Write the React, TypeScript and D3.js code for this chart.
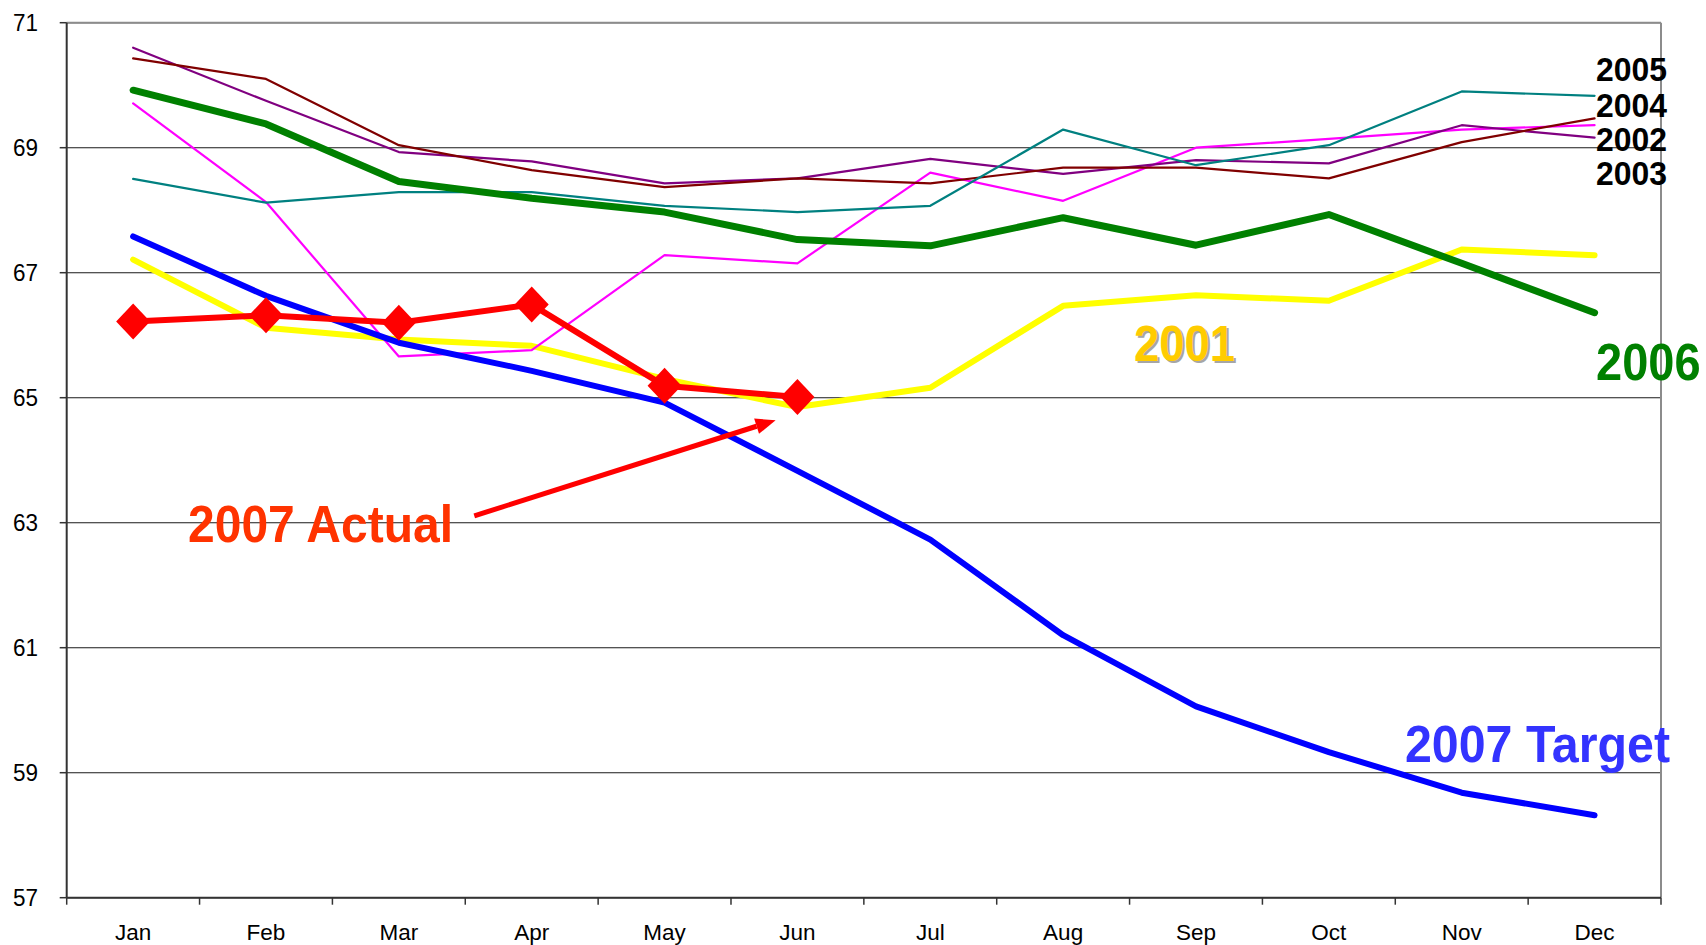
import React from 'react';
import * as d3 from 'd3';

const months = ['Jan', 'Feb', 'Mar', 'Apr', 'May', 'Jun', 'Jul', 'Aug', 'Sep', 'Oct', 'Nov', 'Dec'];
const yTicks = [57, 59, 61, 63, 65, 67, 69, 71];

const s2001 = [67.21, 66.12, 65.93, 65.83, 65.3, 64.85, 65.16, 66.47, 66.64, 66.55, 67.37, 67.28];
const s2002 = [69.71, 68.13, 65.66, 65.76, 67.28, 67.15, 68.6, 68.15, 69.0, 69.14, 69.29, 69.36];
const s2003 = [70.6, 69.75, 68.93, 68.78, 68.43, 68.51, 68.82, 68.58, 68.8, 68.75, 69.36, 69.16];
const s2004 = [70.43, 70.1, 69.04, 68.64, 68.37, 68.51, 68.43, 68.68, 68.68, 68.51, 69.09, 69.47];
const s2005 = [68.5, 68.12, 68.29, 68.29, 68.07, 67.97, 68.07, 69.29, 68.72, 69.04, 69.9, 69.83];
const s2006 = [69.92, 69.38, 68.46, 68.19, 67.97, 67.53, 67.43, 67.88, 67.44, 67.93, 67.15, 66.36];
const target2007 = [67.58, 66.63, 65.88, 65.43, 64.92, 63.83, 62.73, 61.2, 60.06, 59.33, 58.68, 58.32];
const actual2007 = [66.22, 66.32, 66.2, 66.49, 65.19, 65.01];

const W = 1706;
const H = 945;
const left = 66.7;
const right = 1661;
const top = 22.7;
const bottom = 897.7;

const FONT = '"Liberation Sans", Arial, Helvetica, sans-serif';

export default function App() {
  const xBand = d3.scaleBand<string>().domain(months).range([left, right]).paddingInner(0).paddingOuter(0);
  const bw = xBand.bandwidth();
  const x = (m: string) => (xBand(m) as number) + bw / 2;
  const xIdx = d3.scaleLinear().domain([0, 11]).range([x(months[0]), x(months[11])]);
  const y = d3.scaleLinear().domain([57, 71]).range([bottom, top]);

  const line = d3
    .line<number>()
    .x((_, i) => x(months[i]))
    .y((d) => y(d));

  const series = [
    { data: s2001, color: '#FFFF00', w: 6 },
    { data: s2002, color: '#FF00FF', w: 2.2 },
    { data: s2003, color: '#800080', w: 2.2 },
    { data: s2004, color: '#800000', w: 2.2 },
    { data: s2005, color: '#008080', w: 2.2 },
    { data: s2006, color: '#008000', w: 7 },
    { data: target2007, color: '#0000FF', w: 6 },
    { data: actual2007, color: '#FF0000', w: 6 },
  ];

  const boundaries = d3.range(months.length + 1).map((i) => left + i * bw);

  // annotation arrow in data coordinates
  const a0 = { i: 2.568, v: 63.11 };
  const a1 = { i: 4.836, v: 64.64 };
  const ax0 = xIdx(a0.i);
  const ay0 = y(a0.v);
  const ax1 = xIdx(a1.i);
  const ay1 = y(a1.v);
  const ang = Math.atan2(ay1 - ay0, ax1 - ax0);
  const headL = 20;
  const headW = 8;
  const bx = ax1 - headL * Math.cos(ang);
  const by = ay1 - headL * Math.sin(ang);
  const px = -Math.sin(ang);
  const py = Math.cos(ang);
  const head = `M${ax1},${ay1}L${bx + px * headW},${by + py * headW}L${bx - px * headW},${by - py * headW}Z`;

  const dw = 17;
  const dh = 18;

  return (
    <svg
      width={W}
      height={H}
      style={{ position: 'absolute', left: 0, top: 0, background: '#fff' }}
      fontFamily={FONT}
    >
      <rect x={0} y={0} width={W} height={H} fill="#fff" />
      {/* gridlines */}
      {yTicks.map((t) => (
        <line key={'g' + t} x1={left} x2={right} y1={y(t)} y2={y(t)} stroke="#1a1a1a" strokeWidth={1.1} />
      ))}
      {/* plot border top/right */}
      <line x1={left} x2={right} y1={top} y2={top} stroke="#8c8c8c" strokeWidth={2} />
      <line x1={right} x2={right} y1={top} y2={bottom} stroke="#8c8c8c" strokeWidth={2} />
      {/* axes */}
      <line x1={left} x2={left} y1={top} y2={bottom} stroke="#333" strokeWidth={2} />
      <line x1={left} x2={right} y1={bottom} y2={bottom} stroke="#333" strokeWidth={2} />
      {yTicks.map((t) => (
        <g key={'yt' + t}>
          <line x1={left - 7} x2={left} y1={y(t)} y2={y(t)} stroke="#333" strokeWidth={1.5} />
          <text
            x={38}
            y={y(t)}
            dy="0.36em"
            textAnchor="end"
            fontSize={24}
            textLength={25}
            lengthAdjust="spacingAndGlyphs"
            fill="#000"
          >
            {t}
          </text>
        </g>
      ))}
      {boundaries.map((b, i) => (
        <line key={'xt' + i} x1={b} x2={b} y1={bottom} y2={bottom + 7} stroke="#333" strokeWidth={1.5} />
      ))}
      {months.map((m) => (
        <text key={'m' + m} x={x(m)} y={940} textAnchor="middle" fontSize={22.5} fill="#000">
          {m}
        </text>
      ))}

      {/* series */}
      {series.map((s, k) => (
        <path
          key={'s' + k}
          d={line(s.data) as string}
          fill="none"
          stroke={s.color}
          strokeWidth={s.w}
          strokeLinejoin="round"
          strokeLinecap="round"
        />
      ))}
      {actual2007.map((v, i) => {
        const cx = x(months[i]);
        const cy = y(v);
        return (
          <path
            key={'d' + i}
            d={`M${cx},${cy - dh}L${cx + dw},${cy}L${cx},${cy + dh}L${cx - dw},${cy}Z`}
            fill="#FF0000"
          />
        );
      })}

      {/* annotation arrow */}
      <line x1={ax0} y1={ay0} x2={bx} y2={by} stroke="#FF0000" strokeWidth={5} />
      <path d={head} fill="#FF0000" />

      {/* labels */}
      <text x={188} y={542} fontSize={52} fontWeight="bold" fill="#FF3300" textLength={265} lengthAdjust="spacingAndGlyphs">
        2007 Actual
      </text>
      <text x={1405} y={762} fontSize={52} fontWeight="bold" fill="#3333FF" textLength={265} lengthAdjust="spacingAndGlyphs">
        2007 Target
      </text>
      <text x={1136} y={363} fontSize={50} fontWeight="bold" fill="#a6a6a6" textLength={101} lengthAdjust="spacingAndGlyphs">
        2001
      </text>
      <text x={1134} y={361} fontSize={50} fontWeight="bold" fill="#FFCC00" textLength={101} lengthAdjust="spacingAndGlyphs">
        2001
      </text>
      <g transform="translate(1596,380) scale(1,1.1)">
        <text x={0} y={0} fontSize={47} fontWeight="bold" fill="#008000">
          2006
        </text>
      </g>
      {[
        ['2005', 81],
        ['2004', 117],
        ['2002', 151],
        ['2003', 185],
      ].map(([t, yy]) => (
        <text
          key={'l' + t}
          x={1596}
          y={yy as number}
          fontSize={33}
          fontWeight="bold"
          fill="#000"
          textLength={71}
          lengthAdjust="spacingAndGlyphs"
        >
          {t}
        </text>
      ))}
    </svg>
  );
}
